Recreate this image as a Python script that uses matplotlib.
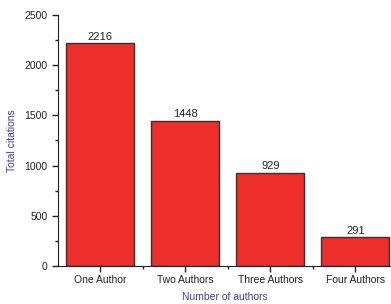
import matplotlib
matplotlib.use("Agg")
from matplotlib import pyplot as plt
from matplotlib.ticker import MultipleLocator, FixedLocator

categorias = ["One Author", "Two Authors", "Three Authors", "Four Authors"]
citacoes = [2216, 1448, 929, 291]
rotulos = ["2216", "1448", "929", "291"]

plt.rcParams['font.family'] = ['Liberation Sans', 'DejaVu Sans']

grafico = plt.figure(figsize=(3.91, 3.04), dpi=100)
ax = grafico.add_axes([0.148, 0.125, 0.852, 0.826])

posicoes = list(range(len(categorias)))
barras = ax.bar(posicoes, citacoes, width=0.8, color='#ee2e2b',
                edgecolor='#333333', linewidth=1.0)

for x, v, r in zip(posicoes, citacoes, rotulos):
    ax.text(x, v + 12, r, ha='center', va='bottom', fontsize=8, color='#222222')

ax.set_xlim(-0.5, 3.42)
ax.set_ylim(0, 2500)
ax.set_xticks(posicoes)
ax.set_xticklabels(categorias, fontsize=7.5, color='#222222')
ax.xaxis.set_minor_locator(FixedLocator([0.5, 1.5, 2.5]))
ax.yaxis.set_major_locator(MultipleLocator(500))
ax.yaxis.set_minor_locator(MultipleLocator(250))
ax.tick_params(axis='y', labelsize=7.5, labelcolor='#222222')
ax.tick_params(axis='x', pad=2.5)
ax.tick_params(which='major', direction='out', length=4, width=1, color='#222222')
ax.tick_params(which='minor', direction='out', length=2, width=1, color='#222222')

ax.spines['top'].set_visible(False)
ax.spines['right'].set_visible(False)
ax.spines['left'].set_color('#222222')
ax.spines['bottom'].set_color('#222222')

ax.set_ylabel('Total citations', fontsize=7.5, color='#3f3fa8', labelpad=5)
ax.set_xlabel('Number of authors', fontsize=7.5, color='#3f3fa8', labelpad=5)

grafico.savefig('out.png', dpi=100)
